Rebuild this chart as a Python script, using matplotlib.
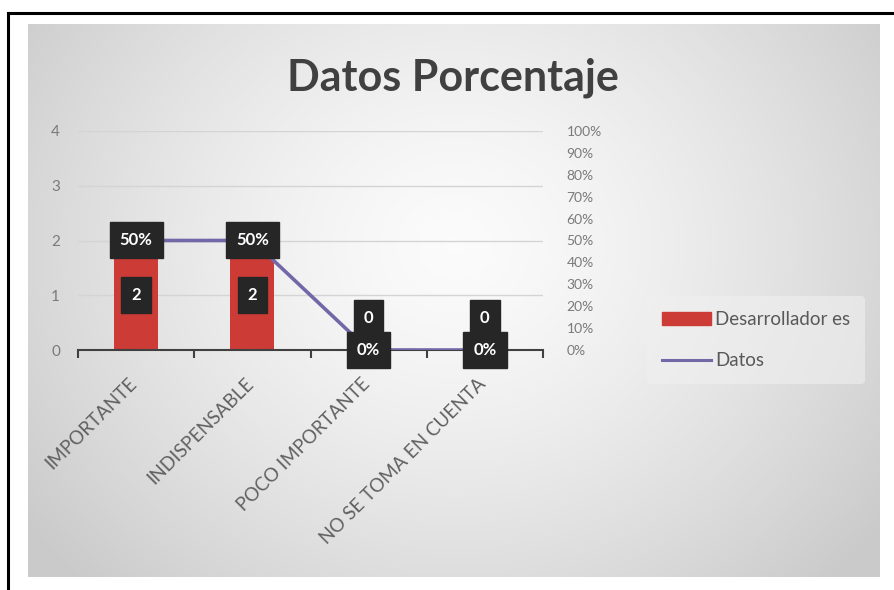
import numpy as np
import matplotlib
matplotlib.use("Agg")
import matplotlib.pyplot as plt
from matplotlib.patches import Rectangle
from matplotlib.lines import Line2D
from matplotlib.transforms import ScaledTranslation

categories = ["IMPORTANTE", "INDISPENSABLE", "POCO IMPORTANTE", "NO SE TOMA EN CUENTA"]
desarrolladores = [2, 2, 0, 0]
datos_pct = [0.50, 0.50, 0.0, 0.0]
left_ticks = [0, 1, 2, 3, 4]
right_ticks = [i / 10 for i in range(11)]
title = "Datos Porcentaje"
legend_labels = ["Desarrollador es", "Datos"]

plt.rcParams['font.family'] = ['Lato', 'DejaVu Sans']

W, H = 894, 590
fig = plt.figure(figsize=(W / 100, H / 100), dpi=100)
fig.patch.set_facecolor("white")

# outer black border (top and left)
fig.add_artist(Line2D([8 / W, 1.0], [1 - 13 / H, 1 - 13 / H], color="black", lw=2.2))
fig.add_artist(Line2D([8 / W, 8 / W], [0, 1 - 13 / H], color="black", lw=2.2))

# gradient panel
px0, px1, py0, py1 = 28, 880, 24, 577
bg = fig.add_axes([px0 / W, 1 - py1 / H, (px1 - px0) / W, (py1 - py0) / H])
ny, nx = 300, 450
yy, xx = np.mgrid[0:ny, 0:nx]
cx, cy = nx * 0.50, ny * 0.40
r = np.sqrt(((xx - cx) / (nx * 0.62)) ** 2 + ((yy - cy) / (ny * 0.85)) ** 2)
r = np.clip(r, 0, 1)
val = 0.985 - 0.19 * r ** 1.4
bg.imshow(np.dstack([val, val, val]), aspect="auto", extent=[0, 1, 0, 1], origin="upper")
bg.set_axis_off()

# main axes
ax_l, ax_r = 78, 543
ax_t, ax_b = 131, 350
ax = fig.add_axes([ax_l / W, 1 - ax_b / H, (ax_r - ax_l) / W, (ax_b - ax_t) / H])
ax.patch.set_alpha(0)
x = np.arange(len(categories))
bars = ax.bar(x, desarrolladores, width=0.38, color="#cc3b35", zorder=2)
ax.set_xlim(-0.5, len(categories) - 0.5)
ax.set_ylim(0, 4)
ax.set_yticks(left_ticks)
ax.set_yticklabels([str(t) for t in left_ticks])
for yv in left_ticks[1:]:
    ax.axhline(yv, color="#d4d4d4", lw=1.0, zorder=1)
for s in ["top", "right", "left"]:
    ax.spines[s].set_visible(False)
ax.spines["bottom"].set_color("#404040")
ax.spines["bottom"].set_linewidth(1.5)
ax.spines["bottom"].set_zorder(3)
ax.tick_params(axis="y", length=0, pad=13, labelsize=11, labelcolor="#7a7a7a")
ax.set_xticks(x)
ax.set_xticklabels(categories, rotation=45, ha="right", rotation_mode="anchor",
                   fontsize=13.5, color="#606060")
ax.tick_params(axis="x", which="major", length=0, pad=18)
shift = ScaledTranslation(-0.08, 0, fig.dpi_scale_trans)
for lab in ax.get_xticklabels():
    lab.set_transform(lab.get_transform() + shift)
ax.set_xticks(np.arange(-0.5, len(categories)), minor=True)
ax.tick_params(axis="x", which="minor", length=6, width=1.5, color="#404040", direction="out")

# secondary axis
ax2 = ax.twinx()
ax2.set_ylim(0, 1)
ax2.set_yticks(right_ticks)
ax2.set_yticklabels([f"{int(round(t * 100))}%" for t in right_ticks])
for s in ["top", "right", "left", "bottom"]:
    ax2.spines[s].set_visible(False)
ax2.tick_params(axis="y", length=0, pad=17, labelsize=10, labelcolor="#7a7a7a")
ax2.plot(x, datos_pct, color="#7467a8", lw=2.6, zorder=3, solid_capstyle="butt")

box = dict(boxstyle="square,pad=0.6", fc="#262626", ec="#262626")
# bar value labels
for xi, v in zip(x, desarrolladores):
    if v > 0:
        ax.annotate(str(v), (xi, v / 2), ha="center", va="center", fontsize=12,
                    fontweight="bold", color="white", bbox=box, zorder=5)
    else:
        ax.annotate(str(v), (xi, v), xytext=(0, 23), textcoords="offset points",
                    ha="center", va="center", fontsize=12, fontweight="bold",
                    color="white", bbox=box, zorder=5)
# line labels
for xi, p in zip(x, datos_pct):
    ax2.annotate(f"{int(round(p * 100))}%", (xi, p), ha="center", va="center",
                 fontsize=12, fontweight="bold", color="white",
                 bbox=box, zorder=6)

# title
fig.text(453 / W, 1 - 78 / H, title, ha="center", va="center", fontsize=31,
         fontweight="bold", color="#404040")

# legend
handles = [Rectangle((0, 0), 1, 1, color="#cc3b35"),
           Line2D([0], [0], color="#7467a8", lw=2.2)]
leg = fig.legend(handles, legend_labels, loc="center left",
                 bbox_to_anchor=(638 / W, 1 - 340 / H), frameon=True,
                 fontsize=13.5, handlelength=2.6, labelspacing=1.3,
                 handletextpad=0.2, borderpad=0.8)
leg.get_frame().set_facecolor("#f0f0f0")
leg.get_frame().set_alpha(0.6)
leg.get_frame().set_edgecolor("none")
for t in leg.get_texts():
    t.set_color("#595959")

fig.savefig("out.png", dpi=100)
